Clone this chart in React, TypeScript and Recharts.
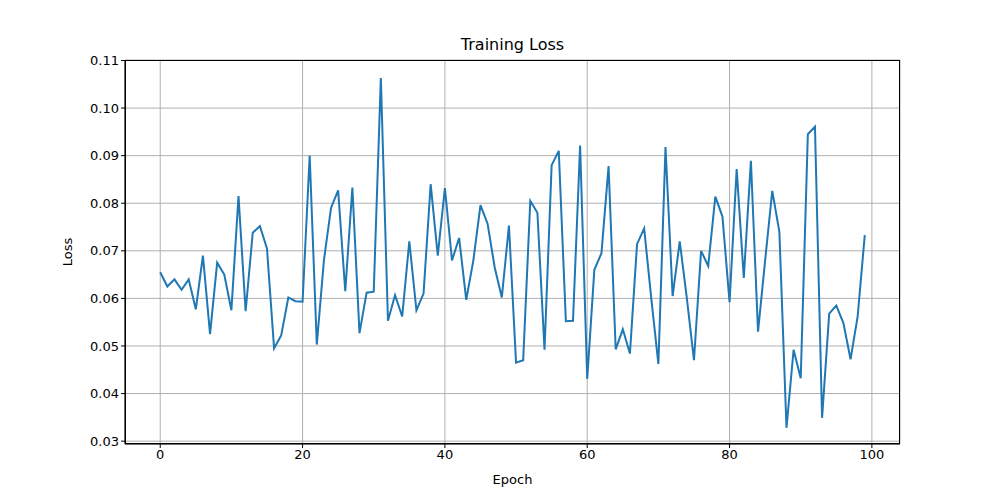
import { LineChart, Line, XAxis, YAxis, CartesianGrid } from 'recharts'

const epochs = Array.from({ length: 100 }, (_, i) => i)
const losses = [
  0.0655, 0.0625, 0.064, 0.0618, 0.064, 0.0577, 0.069, 0.0525, 0.0675, 0.065,
  0.0575, 0.0815, 0.0573, 0.0738, 0.0752, 0.0705, 0.0495, 0.0522, 0.0602, 0.0594,
  0.0593, 0.09, 0.0503, 0.068, 0.079, 0.0827, 0.0615, 0.0833, 0.0527, 0.0612,
  0.0614, 0.1063, 0.0553, 0.0607, 0.0562, 0.072, 0.0575, 0.061, 0.084, 0.069,
  0.0832, 0.068, 0.0727, 0.0597, 0.068, 0.0796, 0.0757, 0.0665, 0.0602, 0.0753,
  0.0465, 0.047, 0.0805, 0.078, 0.0492, 0.088, 0.091, 0.0552, 0.0553, 0.0921,
  0.0431, 0.066, 0.0695, 0.0878, 0.0493, 0.0535, 0.0484, 0.0714, 0.0747, 0.06,
  0.0462, 0.0918, 0.0605, 0.072, 0.06, 0.047, 0.07, 0.0668, 0.0814, 0.0772,
  0.0592, 0.0872, 0.0643, 0.0889, 0.053, 0.068, 0.0826, 0.074, 0.0328, 0.0492,
  0.0432, 0.0945, 0.0961, 0.0349, 0.0568, 0.0585, 0.0548, 0.0472, 0.0562, 0.0733,
]
const xTicks = [0, 20, 40, 60, 80, 100]
const yTicks = [0.03, 0.04, 0.05, 0.06, 0.07, 0.08, 0.09, 0.1, 0.11]

const data = epochs.map((e, i) => ({ epoch: e, loss: losses[i] }))

const font = 'DejaVu Sans, sans-serif'
const tick = { fill: '#000', fontSize: 13, fontFamily: font }

export default function App() {
  return (
    <div style={{ position: 'absolute', left: 0, top: 0, width: 1000, height: 500, background: '#fff' }}>
      <LineChart width={1000} height={500} data={data} margin={{ top: 60, right: 100, left: 65, bottom: 16 }}>
        <CartesianGrid stroke="#b0b0b0" strokeWidth={1} />
        <XAxis
          dataKey="epoch"
          type="number"
          domain={[-4.95, 103.95]}
          ticks={xTicks}
          height={40}
          tick={tick}
          tickSize={4}
          stroke="#000"
          label={{ value: 'Epoch', position: 'insideBottom', offset: 0, style: { fill: '#000', fontSize: 13, fontFamily: font } }}
        />
        <YAxis
          type="number"
          domain={[0.0294, 0.1101]}
          ticks={yTicks}
          allowDataOverflow
          width={60}
          tick={tick}
          tickSize={4}
          stroke="#000"
          tickFormatter={(v: number) => v.toFixed(2)}
          label={{ value: 'Loss', angle: -90, position: 'insideLeft', offset: 2, style: { fill: '#000', fontSize: 13, fontFamily: font, textAnchor: 'middle' } }}
        />
        <Line dataKey="loss" stroke="#1f77b4" strokeWidth={2} dot={false} isAnimationActive={false} />
      </LineChart>
      <div style={{ position: 'absolute', left: 125, top: 60, width: 775, height: 384, border: '1px solid #000', boxSizing: 'border-box', pointerEvents: 'none' }} />
      <div style={{ position: 'absolute', left: 125, top: 35, width: 775, textAlign: 'center', fontFamily: font, fontSize: 16 }}>Training Loss</div>
    </div>
  )
}
